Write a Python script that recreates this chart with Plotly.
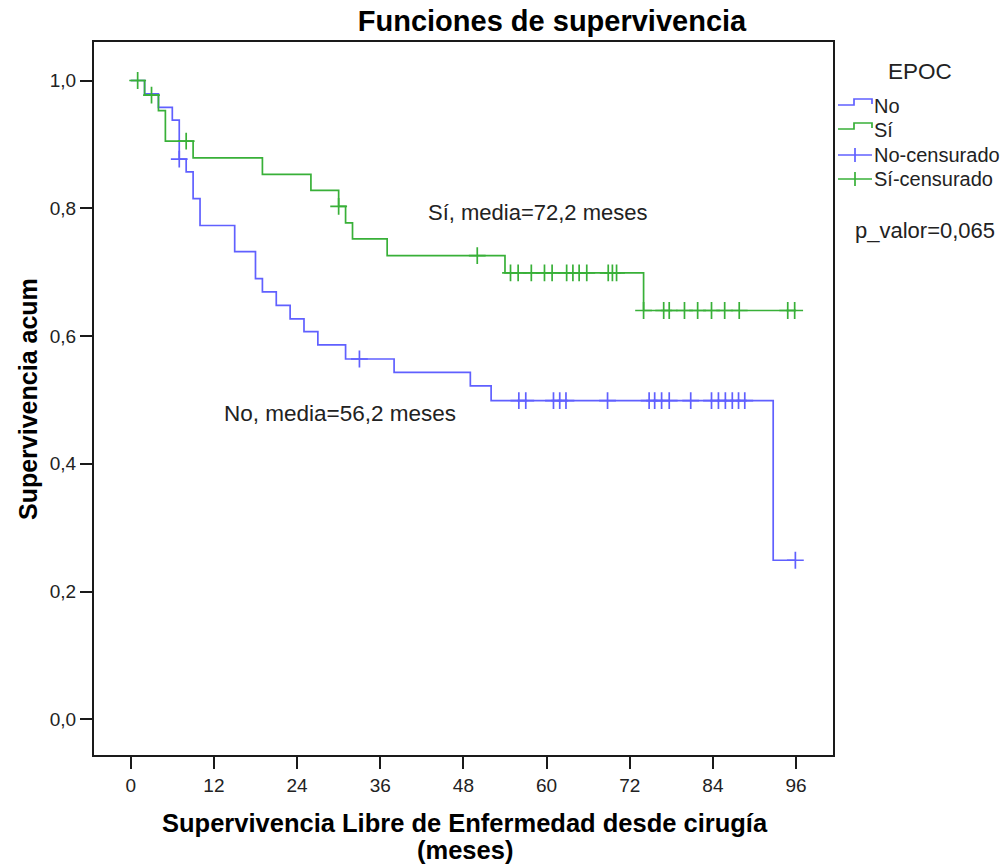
import numpy as np
import plotly.graph_objects as go

# ---------------- data ----------------
# EPOC = No : event times (months) and Kaplan-Meier survival after each event
no_event_t = [0, 2, 4, 6, 7, 8, 9, 10, 15, 18, 19, 21, 23, 25, 27, 31, 38, 49, 52, 92.7]
no_event_s = [1.0, 0.979, 0.958, 0.938, 0.877, 0.857, 0.815, 0.773, 0.732, 0.690,
              0.669, 0.648, 0.627, 0.607, 0.586, 0.564, 0.543, 0.522, 0.499, 0.249]
no_end_t = 96
no_censored_t = [7, 33, 56, 57, 61, 61.9, 62.8, 68.8, 74.8, 75.6, 76.6, 77.7, 80.8,
                 83.8, 84.8, 85.8, 86.8, 87.7, 88.6, 95.9]

# EPOC = Sí
si_event_t = [0, 2, 4, 5, 9, 19, 26, 30, 31, 32, 37, 54, 74]
si_event_s = [1.0, 0.977, 0.953, 0.905, 0.879, 0.853, 0.828, 0.803, 0.777, 0.752,
              0.726, 0.699, 0.640]
si_end_t = 96
si_censored_t = [1, 3, 8, 30, 50, 54.8, 55.9, 57.8, 59.7, 60.8, 62.9, 63.8, 64.7, 65.8,
                 68.9, 69.5, 70.1, 74, 76.9, 77.7, 79.9, 81.8, 83.8, 85.7, 87.8, 94.8, 95.8]

x_ticks = [0, 12, 24, 36, 48, 60, 72, 84, 96]
y_ticks = [0.0, 0.2, 0.4, 0.6, 0.8, 1.0]

BLUE = "rgb(96,96,255)"
GREEN = "rgb(56,176,56)"
FONT = "Liberation Sans, Arial, sans-serif"


def step_at(ev_t, ev_s, t):
    idx = np.searchsorted(np.asarray(ev_t), np.asarray(t), side="right") - 1
    return list(np.asarray(ev_s)[idx])


fig = go.Figure()

for ev_t, ev_s, end_t, col, name in [
    (no_event_t, no_event_s, no_end_t, BLUE, "No"),
    (si_event_t, si_event_s, si_end_t, GREEN, "Sí"),
]:
    fig.add_trace(go.Scatter(
        x=list(ev_t) + [end_t], y=list(ev_s) + [ev_s[-1]],
        mode="lines", line=dict(color=col, width=1.7, shape="hv"),
        name=name, showlegend=False, hoverinfo="skip"))

for ev_t, ev_s, cens, col, name in [
    (no_event_t, no_event_s, no_censored_t, BLUE, "No-censurado"),
    (si_event_t, si_event_s, si_censored_t, GREEN, "Sí-censurado"),
]:
    fig.add_trace(go.Scatter(
        x=cens, y=step_at(ev_t, ev_s, cens), mode="markers",
        marker=dict(symbol="cross-thin", size=12, line=dict(color=col, width=1.7)),
        name=name, showlegend=False))

# ---------------- layout geometry ----------------
W, H = 1007, 865
L, R, T, B = 94, 833, 42, 755


def PX(x):
    return (x - L) / (R - L)


def PY(y):
    return (B - y) / (B - T)


def txt(text, x, y, size, color="#222", xanchor="center", angle=0):
    return dict(text=text, showarrow=False, xanchor=xanchor, yanchor="middle",
                font=dict(size=size, color=color, family=FONT), textangle=angle,
                x=PX(x), y=PY(y), xref="paper", yref="paper", borderpad=0)


annotations = [
    txt("Sí, media=72,2 meses", 427, 213, 22, xanchor="left"),
    txt("No, media=56,2 meses", 223, 413, 22.5, xanchor="left"),
    txt("p_valor=0,065", 925, 230, 22),
    txt("EPOC", 920, 71, 22.5),
    txt("<b>Supervivencia acum</b>", 28, 399, 25, color="black", angle=-90),
    txt("<b>Supervivencia Libre de Enfermedad desde cirugía</b>", 465, 823, 25.5, color="black"),
    txt("<b>(meses)</b>", 465, 850, 25.5, color="black"),
]

legend_items = [("No", BLUE, "step", 106), ("Sí", GREEN, "step", 130),
                ("No-censurado", BLUE, "cross", 155), ("Sí-censurado", GREEN, "cross", 179)]
shapes = []
for label, col, kind, yy in legend_items:
    annotations.append(txt(label, 873, yy, 20, xanchor="left"))
    if kind == "step":
        pts = [(838, yy - 1), (854, yy - 1), (854, yy - 7), (872, yy - 7), (872, yy - 2)]
        path = "M " + " L ".join(f"{PX(a)},{PY(b)}" for a, b in pts)
        shapes.append(dict(type="path", path=path, xref="paper", yref="paper",
                           line=dict(color=col, width=1.7)))
    else:
        shapes.append(dict(type="line", x0=PX(838), x1=PX(872), y0=PY(yy), y1=PY(yy),
                           xref="paper", yref="paper", line=dict(color=col, width=1.7)))
        shapes.append(dict(type="line", x0=PX(855), x1=PX(855), y0=PY(yy - 7), y1=PY(yy + 7),
                           xref="paper", yref="paper", line=dict(color=col, width=1.7)))

fig.update_layout(
    width=W, height=H,
    margin=dict(l=L, r=W - R, t=T, b=H - B, pad=0),
    paper_bgcolor="white", plot_bgcolor="white",
    separators=",.",
    showlegend=False,
    title=dict(text="<b>Funciones de supervivencia</b>", x=552 / W, y=1 - 21 / H,
               xref="container", yref="container", xanchor="center", yanchor="middle",
               font=dict(size=29, color="black", family=FONT)),
    xaxis=dict(range=[-5.3, 101.33], tickvals=x_ticks, ticktext=[str(v) for v in x_ticks],
               showgrid=False, zeroline=False, showline=True, linecolor="#1a1a1a",
               linewidth=2, mirror=True, ticks="outside", ticklen=12, tickwidth=2,
               tickcolor="#1a1a1a", tickfont=dict(size=19, color="#222", family=FONT)),
    yaxis=dict(range=[-0.0559, 1.0603], tickvals=y_ticks, tickformat=".1f",
               showgrid=False, zeroline=False, showline=True, linecolor="#1a1a1a",
               linewidth=2, mirror=True, ticks="outside", ticklen=12, tickwidth=2,
               tickcolor="#1a1a1a", tickfont=dict(size=19, color="#222", family=FONT)),
    annotations=annotations,
    shapes=shapes,
)

fig.write_html("out.html")
